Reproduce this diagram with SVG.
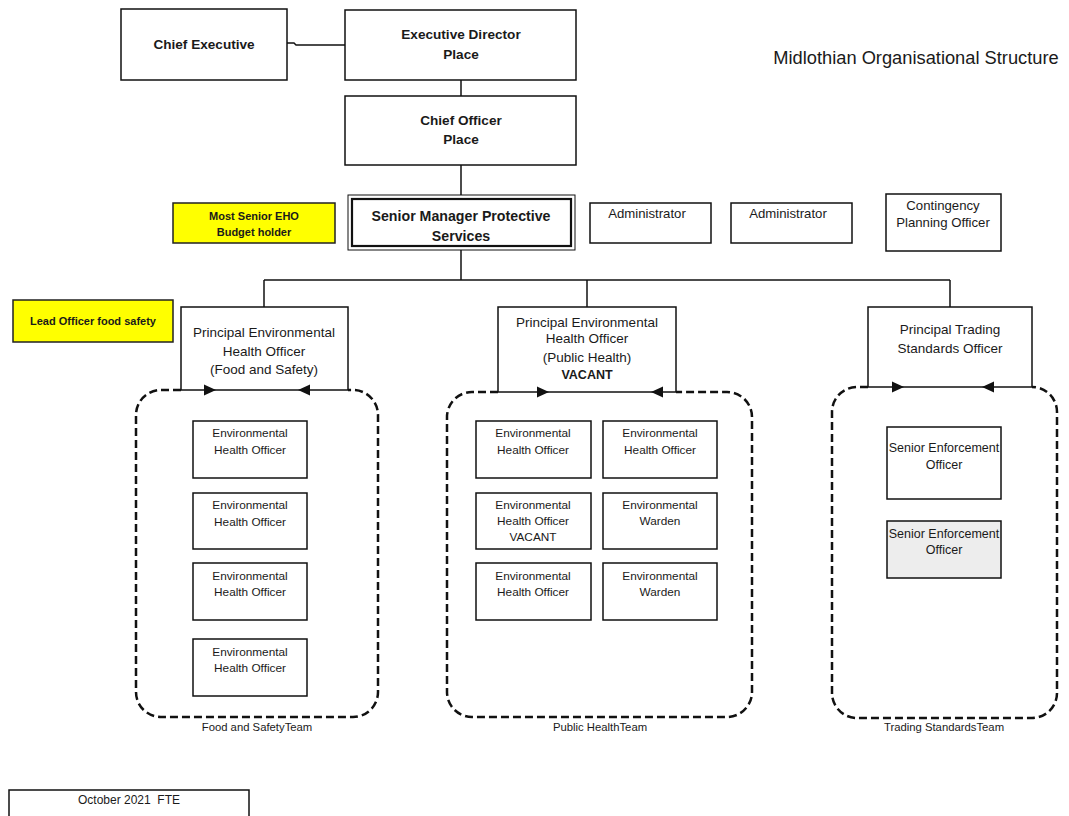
<svg xmlns="http://www.w3.org/2000/svg" width="1069" height="816" viewBox="0 0 1069 816">
<style>
text{font-family:"Liberation Sans",Arial,sans-serif;fill:#1a1a1a;text-anchor:middle}
.box{fill:#fff;stroke:#111;stroke-width:1.5}
.yel{fill:#ffff00;stroke:#222;stroke-width:1.5}
.grey{fill:#ededed;stroke:#111;stroke-width:1.5}
.b12{font-size:13.6px;font-weight:bold}
.b13{font-size:14.2px;font-weight:bold}
.b10{font-size:11px;font-weight:bold}
.r12{font-size:13.5px}
.r11{font-size:13.2px}
.r10{font-size:11.8px}
.seo{font-size:12.5px}
.team{font-size:11.3px}
.line{fill:none;stroke:#111;stroke-width:1.5}
.dash{fill:none;stroke:#111;stroke-width:2.5;stroke-dasharray:8 4}
.arr{fill:#111}
</style>
<rect width="1069" height="816" fill="#fff"/>
<g id="connectors">
<polyline class="line" points="287,43 294,43 296,45 345,45"/>
<line class="line" x1="461" y1="80" x2="461" y2="96"/>
<line class="line" x1="461" y1="165" x2="461" y2="195"/>
<line class="line" x1="461" y1="250" x2="461" y2="280"/>
<line class="line" x1="264" y1="280" x2="950" y2="280"/>
<line class="line" x1="264" y1="280" x2="264" y2="307"/>
<line class="line" x1="587" y1="280" x2="587" y2="307"/>
<line class="line" x1="950" y1="280" x2="950" y2="307"/>
</g>
<g id="title"><text x="916" y="64" style="font-size:18.3px">Midlothian Organisational Structure</text></g>
<g id="chief-executive"><rect class="box" x="121" y="9" width="166" height="71"/><text class="b12" x="204" y="49">Chief Executive</text></g>
<g id="executive-director"><rect class="box" x="345" y="10" width="231" height="70"/><text class="b12" x="461" y="39">Executive Director</text><text class="b12" x="461" y="59">Place</text></g>
<g id="chief-officer"><rect class="box" x="345" y="96" width="231" height="69"/><text class="b12" x="461" y="125">Chief Officer</text><text class="b12" x="461" y="144">Place</text></g>
<g id="most-senior-eho"><rect class="yel" x="173" y="203" width="162" height="40"/><text class="b10" x="254" y="220">Most Senior EHO</text><text class="b10" x="254" y="236">Budget holder</text></g>
<g id="senior-manager"><rect class="box" x="348" y="195" width="227" height="55" style="stroke-width:1"/><rect x="352" y="199" width="219" height="47" fill="none" stroke="#111" stroke-width="2.2"/><text class="b13" x="461" y="221">Senior Manager Protective</text><text class="b13" x="461" y="241">Services</text></g>
<g id="administrator-1"><rect class="box" x="590" y="203" width="121" height="40"/><text class="r11" x="647" y="218">Administrator</text></g>
<g id="administrator-2"><rect class="box" x="731" y="203" width="121" height="40"/><text class="r11" x="788" y="218">Administrator</text></g>
<g id="contingency"><rect class="box" x="886" y="194" width="115" height="57"/><text class="r11" x="943" y="210">Contingency</text><text class="r11" x="943" y="227">Planning Officer</text></g>
<g id="lead-officer"><rect class="yel" x="13" y="300" width="160" height="42"/><text class="b10" x="93" y="325">Lead Officer food safety</text></g>

<g id="food-safety-team">
<path class="dash" d="M181,390 H161 A25,25 0 0 0 136,415 V692 A25,25 0 0 0 161,717 H353 A25,25 0 0 0 378,692 V415 A25,25 0 0 0 353,390 H348"/>
<text class="team" x="257" y="731">Food and SafetyTeam</text>
</g>
<g id="peho-food"><rect class="box" x="181" y="307" width="167" height="83"/><text class="r12" x="264" y="337">Principal Environmental</text><text class="r12" x="264" y="356">Health Officer</text><text class="r12" x="264" y="374">(Food and Safety)</text>
<polygon class="arr" points="216,390 204,384.5 204,395.5"/><polygon class="arr" points="298,390 310,384.5 310,395.5"/></g>
<g id="fs-eho-1"><rect class="box" x="193" y="421" width="114" height="57"/><text class="r10" x="250" y="437">Environmental</text><text class="r10" x="250" y="454">Health Officer</text></g>
<g id="fs-eho-2"><rect class="box" x="193" y="493" width="114" height="56"/><text class="r10" x="250" y="509">Environmental</text><text class="r10" x="250" y="526">Health Officer</text></g>
<g id="fs-eho-3"><rect class="box" x="193" y="563" width="114" height="57"/><text class="r10" x="250" y="580">Environmental</text><text class="r10" x="250" y="596">Health Officer</text></g>
<g id="fs-eho-4"><rect class="box" x="193" y="639" width="114" height="57"/><text class="r10" x="250" y="656">Environmental</text><text class="r10" x="250" y="672">Health Officer</text></g>

<g id="public-health-team">
<path class="dash" d="M498,392 H472 A25,25 0 0 0 447,417 V692 A25,25 0 0 0 472,717 H727 A25,25 0 0 0 752,692 V417 A25,25 0 0 0 727,392 H676"/>
<text class="team" x="600" y="731">Public HealthTeam</text>
</g>
<g id="peho-public"><rect class="box" x="498" y="307" width="178" height="85"/><text class="r12" x="587" y="327">Principal Environmental</text><text class="r12" x="587" y="343">Health Officer</text><text class="r12" x="587" y="362">(Public Health)</text><text class="b10" x="587" y="379" style="font-size:12.5px">VACANT</text>
<polygon class="arr" points="549,392 537,386.5 537,397.5"/><polygon class="arr" points="651,392 663,386.5 663,397.5"/></g>
<g id="ph-eho-1"><rect class="box" x="476" y="421" width="115" height="57"/><text class="r10" x="533" y="437">Environmental</text><text class="r10" x="533" y="454">Health Officer</text></g>
<g id="ph-eho-2"><rect class="box" x="603" y="421" width="114" height="57"/><text class="r10" x="660" y="437">Environmental</text><text class="r10" x="660" y="454">Health Officer</text></g>
<g id="ph-eho-3"><rect class="box" x="476" y="493" width="115" height="56"/><text class="r10" x="533" y="509">Environmental</text><text class="r10" x="533" y="525">Health Officer</text><text class="r10" x="533" y="541">VACANT</text></g>
<g id="ph-warden-1"><rect class="box" x="603" y="493" width="114" height="56"/><text class="r10" x="660" y="509">Environmental</text><text class="r10" x="660" y="525">Warden</text></g>
<g id="ph-eho-4"><rect class="box" x="476" y="563" width="115" height="57"/><text class="r10" x="533" y="580">Environmental</text><text class="r10" x="533" y="596">Health Officer</text></g>
<g id="ph-warden-2"><rect class="box" x="603" y="563" width="114" height="57"/><text class="r10" x="660" y="580">Environmental</text><text class="r10" x="660" y="596">Warden</text></g>

<g id="trading-standards-team">
<path class="dash" d="M868,387 H857 A25,25 0 0 0 832,412 V693 A25,25 0 0 0 857,718 H1032 A25,25 0 0 0 1057,693 V412 A25,25 0 0 0 1032,387"/>
<text class="team" x="944" y="731">Trading StandardsTeam</text>
</g>
<g id="ptso"><rect class="box" x="868" y="307" width="164" height="80"/><text class="r12" x="950" y="334">Principal Trading</text><text class="r12" x="950" y="353">Standards Officer</text>
<polygon class="arr" points="904,387 892,381.5 892,392.5"/><polygon class="arr" points="982,387 994,381.5 994,392.5"/></g>
<g id="seo-1"><rect class="box" x="887" y="427" width="114" height="72"/><text class="seo" x="944" y="452">Senior Enforcement</text><text class="seo" x="944" y="469">Officer</text></g>
<g id="seo-2"><rect class="grey" x="887" y="521" width="114" height="57"/><text class="seo" x="944" y="538">Senior Enforcement</text><text class="seo" x="944" y="554">Officer</text></g>

<g id="fte"><rect class="box" x="9" y="790" width="240" height="40"/><text class="r10" x="129" y="804" style="font-size:12px;white-space:pre" xml:space="preserve">October 2021  FTE</text></g>
</svg>
